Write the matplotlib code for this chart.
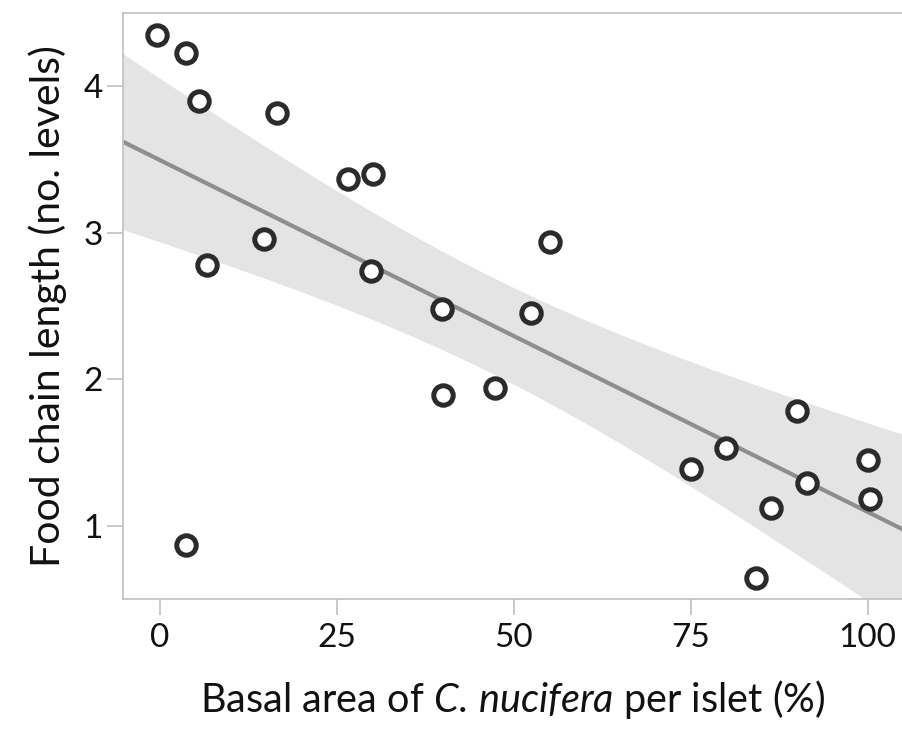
import numpy as np
import matplotlib
matplotlib.use('Agg')
import matplotlib.pyplot as plt

# basal area of C. nucifera per islet (%) and food chain length (levels)
basal_area = [-0.4, 3.7, 5.6, 16.5, 26.6, 30.1, 14.7, 6.6, 29.8, 55.1, 39.8, 52.4,
              40.0, 47.3, 3.7, 75.1, 80.0, 90.0, 86.4, 91.5, 100.0, 100.3, 84.3]
chain_length = [4.35, 4.23, 3.90, 3.82, 3.37, 3.40, 2.96, 2.78, 2.74, 2.94, 2.48, 2.45,
                1.89, 1.94, 0.87, 1.39, 1.53, 1.78, 1.12, 1.29, 1.45, 1.18, 0.64]

x_ticks = [0, 25, 50, 75, 100]
y_ticks = [1, 2, 3, 4]

x = np.array(basal_area)
y = np.array(chain_length)
xlim = (-5.2, 105)
ylim = (0.5, 4.5)

# ordinary least squares fit with 95% confidence band
n = len(x)
slope, intercept = np.polyfit(x, y, 1)
resid = y - (intercept + slope * x)
s = np.sqrt(np.sum(resid ** 2) / (n - 2))
sxx = np.sum((x - x.mean()) ** 2)
xs = np.linspace(xlim[0], xlim[1], 200)
fit = intercept + slope * xs
se = s * np.sqrt(1 / n + (xs - x.mean()) ** 2 / sxx)
t_crit = 2.080  # t(0.975, df=21)

plt.rcParams['font.family'] = ['Lato', 'DejaVu Sans']
plt.rcParams['mathtext.fontset'] = 'custom'
plt.rcParams['mathtext.rm'] = 'Lato'
plt.rcParams['mathtext.it'] = 'Lato:italic'

fig = plt.figure(figsize=(9.03, 7.32), dpi=100)
ax = fig.add_axes([0.1362, 0.1817, 0.8638, 0.8005])

ax.fill_between(xs, fit - t_crit * se, fit + t_crit * se, color='#e4e4e4', lw=0, zorder=1)
ax.plot(xs, fit, color='#8e8e8e', lw=3, zorder=2)
ax.plot(x, y, 'o', ms=14, mfc='white', mec='#2b2b2b', mew=3.6, zorder=3, clip_on=False)

ax.set_xlim(*xlim)
ax.set_ylim(*ylim)
ax.set_xticks(x_ticks)
ax.set_yticks(y_ticks)

for side in ['left', 'bottom', 'top']:
    ax.spines[side].set_color('#c4c4c4')
    ax.spines[side].set_linewidth(1.3)
ax.spines['right'].set_visible(False)
ax.tick_params(length=11.5, width=1.3, color='#c4c4c4', labelsize=24,
               labelcolor='#111111')
ax.tick_params(axis='x', pad=6)
ax.tick_params(axis='y', pad=3)

ax.set_xlabel('Basal area of $\\mathit{C.\\,nucifera}$ per islet (%)', fontsize=28.5,
              color='#111111', labelpad=18)
ax.set_ylabel('Food chain length (no. levels)', fontsize=29.5, color='#111111', labelpad=12)

fig.savefig('out.png', dpi=100)
